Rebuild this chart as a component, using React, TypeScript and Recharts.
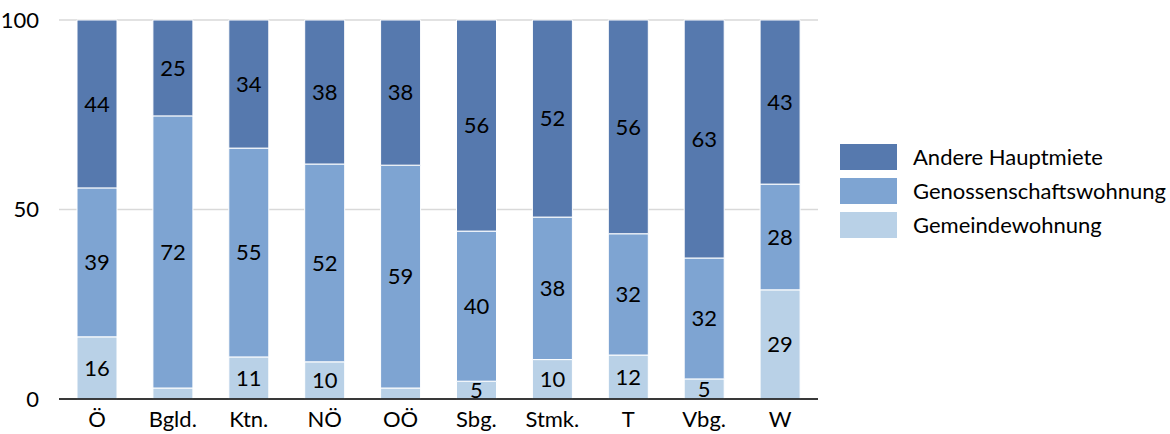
import React from "react";
import { BarChart, Bar, XAxis, YAxis, CartesianGrid, LabelList } from "recharts";

const regions = ["Ö", "Bgld.", "Ktn.", "NÖ", "OÖ", "Sbg.", "Stmk.", "T", "Vbg.", "W"];
const gemeinde = [16.4, 2.9, 11.1, 9.8, 2.9, 4.7, 10.4, 11.6, 5.3, 28.8];
const genossen = [39.3, 71.8, 55.1, 52.2, 58.8, 39.6, 37.6, 32.0, 31.9, 27.9];
const andere = [44.3, 25.3, 33.8, 38.0, 38.3, 55.7, 52.0, 56.4, 62.8, 43.3];
const yTicks = [0, 50, 100];

const series = [
  { key: "andere", name: "Andere Hauptmiete", color: "#5679ae" },
  { key: "genossen", name: "Genossenschaftswohnung", color: "#7ea4d2" },
  { key: "gemeinde", name: "Gemeindewohnung", color: "#b9d1e7" },
];

const data = regions.map((r, i) => ({
  region: r,
  gemeinde: gemeinde[i],
  genossen: genossen[i],
  andere: andere[i],
}));

const FONT = "Lato, 'Open Sans', sans-serif";

const fmt = (v: any) => (v < 4 ? "" : String(Math.round(v)));

// legend drawn beside the chart so it doesn't eat into the plot area
const LegendBox = () => (
  <div style={{ position: "absolute", left: 840, top: 140, fontFamily: FONT, fontSize: 22, color: "#000" }}>
    {series.map((s) => (
      <div key={s.key} style={{ display: "flex", alignItems: "center", height: 34 }}>
        <div style={{ width: 57, height: 26, background: s.color, marginRight: 16 }} />
        <span style={{ lineHeight: 1 }}>{s.name}</span>
      </div>
    ))}
  </div>
);

export default function App() {
  return (
    <div style={{ position: "absolute", left: 0, top: 0, width: 1170, height: 434, background: "#fff" }}>
      <BarChart
        width={1170}
        height={434}
        data={data}
        margin={{ top: 20, right: 352, bottom: 0, left: 0 }}
        barSize={40}
      >
        <CartesianGrid vertical={false} stroke="#d9d9d9" strokeWidth={1.5} />
        <XAxis
          dataKey="region"
          height={35}
          tickLine={false}
          axisLine={{ stroke: "#000", strokeWidth: 1.5 }}
          tick={{ fill: "#000", fontSize: 22, fontFamily: FONT }}
          tickMargin={6}
          interval={0}
        />
        <YAxis
          width={59}
          domain={[0, 100]}
          ticks={yTicks}
          axisLine={false}
          tickLine={false}
          tickMargin={14}
          tick={{ fill: "#000", fontSize: 22, fontFamily: FONT }}
        />
        <Bar dataKey="gemeinde" stackId="a" fill="#b9d1e7" stroke="#fff" strokeWidth={1} isAnimationActive={false}>
          <LabelList dataKey="gemeinde" position="center" formatter={fmt} fill="#000" fontSize={22} fontFamily={FONT} />
        </Bar>
        <Bar dataKey="genossen" stackId="a" fill="#7ea4d2" stroke="#fff" strokeWidth={1} isAnimationActive={false}>
          <LabelList dataKey="genossen" position="center" formatter={fmt} fill="#000" fontSize={22} fontFamily={FONT} />
        </Bar>
        <Bar dataKey="andere" stackId="a" fill="#5679ae" stroke="#fff" strokeWidth={1} isAnimationActive={false}>
          <LabelList dataKey="andere" position="center" formatter={fmt} fill="#000" fontSize={22} fontFamily={FONT} />
        </Bar>
      </BarChart>
      <LegendBox />
    </div>
  );
}
